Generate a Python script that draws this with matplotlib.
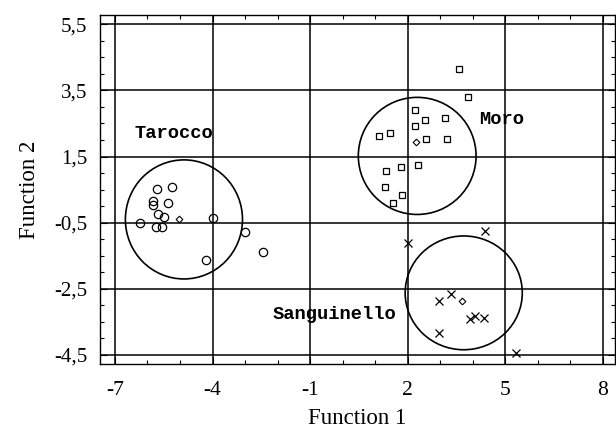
import numpy as np
import matplotlib; matplotlib.use("Agg")
import matplotlib.pyplot as plt
from matplotlib.patches import Ellipse
from matplotlib.ticker import MultipleLocator, FixedLocator, FixedFormatter

# discriminant scores
tar_x = [-5.70, -5.26, -5.84, -5.82, -5.36, -5.67, -5.49, -6.23, -5.75, -5.56, -4.00, -2.99, -2.46, -4.21]
tar_y = [0.52, 0.59, 0.16, 0.04, 0.11, -0.25, -0.32, -0.50, -0.62, -0.62, -0.35, -0.79, -1.39, -1.63]
moro_x = [3.58, 3.84, 2.23, 2.54, 3.14, 2.23, 1.12, 1.44, 2.57, 3.20, 1.79, 2.31, 1.33, 1.30, 1.82, 1.54]
moro_y = [4.14, 3.29, 2.90, 2.61, 2.67, 2.43, 2.12, 2.20, 2.02, 2.02, 1.18, 1.25, 1.06, 0.57, 0.33, 0.09]
sang_x = [4.37, 2.02, 3.33, 2.96, 3.91, 4.07, 4.34, 2.96, 5.33]
sang_y = [-0.74, -1.10, -2.66, -2.86, -3.42, -3.32, -3.37, -3.83, -4.45]
# group centroids
cen_x = [-5.02, 2.24, 3.68]
cen_y = [-0.39, 1.94, -2.86]
# circles round each group
circ_x = [-4.88, 2.29, 3.72]
circ_y = [-0.40, 1.52, -2.62]
circ_rx = [1.80, 1.81, 1.80]
circ_ry = [1.80, 1.77, 1.72]
groups = ["Tarocco", "Moro", "Sanguinello"]
lab_x = [-6.39, 4.20, -2.15]
lab_y = [2.20, 2.61, -3.27]

xt = [-7, -4, -1, 2, 5, 8]
xt_lab = ["-7", "-4", "-1", "2", "5", "8"]
yt = [-4.5, -2.5, -0.5, 1.5, 3.5, 5.5]
yt_lab = ["-4,5", "-2,5", "-0,5", "1,5", "3,5", "5,5"]

plt.rcParams["font.family"] = ["Liberation Serif", "DejaVu Serif"]
fig = plt.figure(figsize=(6.16, 4.36), dpi=100)
ax = fig.add_axes([100/616, 1-364.3/436, 515/616, (364.3-15)/436])

ax.plot(tar_x, tar_y, "o", ms=6.0, mfc="none", mec="black", mew=0.9, ls="none")
ax.plot(moro_x, moro_y, "s", ms=4.8, mfc="none", mec="black", mew=0.9, ls="none")
ax.plot(sang_x, sang_y, "x", ms=5.5, color="black", mew=0.9, ls="none")
ax.plot(cen_x, cen_y, "D", ms=3.4, mfc="none", mec="black", mew=0.8, ls="none")
for cx, cy, rx, ry in zip(circ_x, circ_y, circ_rx, circ_ry):
    ax.add_patch(Ellipse((cx, cy), 2*rx, 2*ry, fill=False, ec="black", lw=1.2))
for g, lx, ly in zip(groups, lab_x, lab_y):
    ax.text(lx, ly, g, family="Liberation Mono", fontweight="bold", fontsize=13.5,
            ha="left", va="center")

ax.set_xlim(-7.46, 8.37)
ax.set_ylim(-4.78, 5.78)
ax.xaxis.set_major_locator(FixedLocator(xt))
ax.xaxis.set_major_formatter(FixedFormatter(xt_lab))
ax.yaxis.set_major_locator(FixedLocator(yt))
ax.yaxis.set_major_formatter(FixedFormatter(yt_lab))
ax.xaxis.set_minor_locator(MultipleLocator(1))
ax.yaxis.set_minor_locator(MultipleLocator(0.5))
ax.tick_params(which="both", direction="in", top=True, right=True, width=0.8)
ax.tick_params(which="major", length=5)
ax.tick_params(which="minor", length=3)
ax.tick_params(axis="x", labelsize=15.5, pad=12)
ax.tick_params(axis="y", labelsize=15, pad=9)
ax.grid(True, which="major", color="black", lw=1.1)
for sp in ax.spines.values():
    sp.set_linewidth(1.0)
ax.set_xlabel("Function 1", fontsize=16.5, labelpad=6)
ax.set_ylabel("Function 2", fontsize=16.5, labelpad=10)

fig.savefig("out.png", dpi=100)
